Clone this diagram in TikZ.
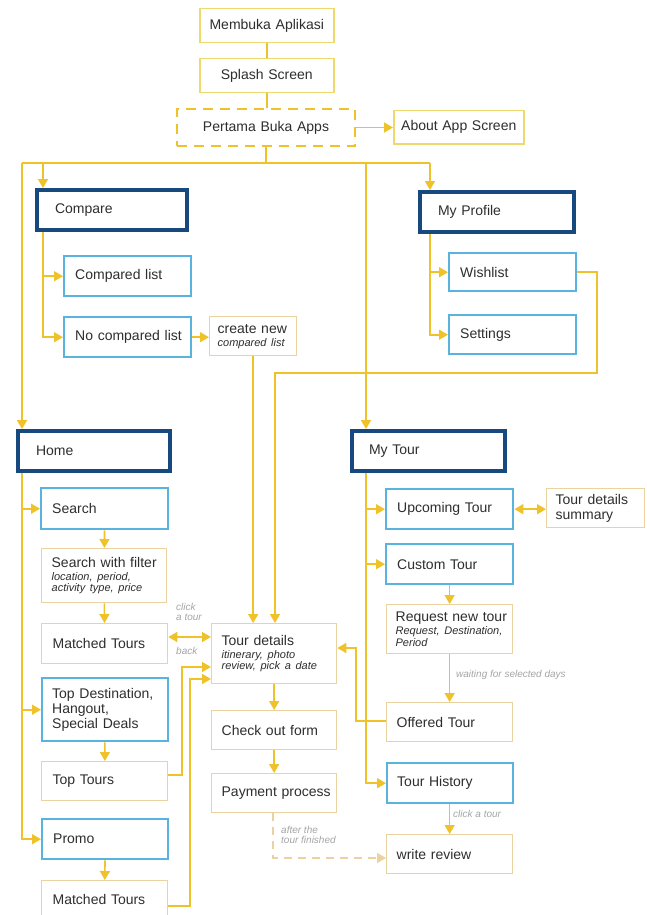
\documentclass[tikz,border=0pt]{standalone}
\usepackage{fontspec}
\setmainfont{Liberation Sans}
\usetikzlibrary{arrows.meta}
\definecolor{lnc}{HTML}{F0C22A}
\definecolor{tanc}{HTML}{EAD3A0}
\definecolor{yboxc}{HTML}{EED96E}
\definecolor{lbluec}{HTML}{5AB2DE}
\definecolor{dbluec}{HTML}{17497F}
\definecolor{labc}{HTML}{A5A5A8}
\definecolor{txtc}{HTML}{2E2E2E}
\hfuzz=60pt
\newcommand\subtxt[1]{{\fontsize{11}{11.5}\selectfont\itshape\vspace{1.5pt}#1\par}}
\newcommand\mkbox[8]{%
  \pgfmathsetmacro\bxw{#5-#3}\pgfmathsetmacro\bxh{#6-#4}\pgfmathsetmacro\bxt{#5-#3-2*#7}%
  \node[#1, minimum width=\bxw pt, minimum height=\bxh pt, text width=\bxt pt, inner xsep=#7pt, anchor=north west] (#2) at (#3,#4) {#8};}
\tikzset{
  basebox/.style={inner ysep=0pt, align=left, text=txtc, font=\fontsize{14}{15}\selectfont},
  plainbox/.style={basebox, draw=tanc, line width=1.3pt},
  topbox/.style={basebox, draw=yboxc, line width=1.5pt, align=center},
  dashbox/.style={basebox, draw=lnc, line width=2pt, dash pattern=on 10pt off 7pt, align=center},
  bluebox/.style={basebox, draw=lbluec, line width=2.4pt},
  darkbox/.style={basebox, draw=dbluec, line width=4pt},
  conn/.style={draw=lnc, line width=1.6pt},
  arr/.style={conn, -{Triangle[length=9pt,width=10pt]}},
  darr/.style={conn, {Triangle[length=9pt,width=10pt]}-{Triangle[length=9pt,width=10pt]}},
  dasharr/.style={draw=tanc, line width=1.5pt, dash pattern=on 8pt off 6pt, -{Triangle[length=9pt,width=10pt]}},
  lbl/.style={text=labc, font=\fontsize{10}{10.5}\selectfont\itshape, inner sep=0pt, align=left},
}
\begin{document}
\begin{tikzpicture}[x=1pt,y=-1pt]
\useasboundingbox (0,0) rectangle (647,915);
\fill[white] (0,0) rectangle (647,915);
\clip (0,0) rectangle (647,915);

% boxes
\mkbox{topbox}{memb}{199}{8}{333}{42}{6}{Membuka Aplikasi}
\mkbox{topbox}{splash}{199}{58}{333}{92}{6}{Splash Screen}
\mkbox{dashbox}{pertama}{176}{108}{354}{145}{10}{Pertama Buka Apps}
\mkbox{topbox}{about}{393}{110}{523}{143}{6}{About App Screen}
\mkbox{darkbox}{compare}{35}{188}{185}{228}{18}{Compare}
\mkbox{darkbox}{profile}{418}{190}{572}{230}{18}{My Profile}
\mkbox{bluebox}{cl}{63}{255}{190}{295}{11}{Compared list}
\mkbox{bluebox}{ncl}{63}{316}{190}{356}{11}{\mbox{No compared list}}
\mkbox{plainbox}{cnew}{209}{316}{296}{355}{8}{\mbox{create new}\par\subtxt{\mbox{compared list}}}
\mkbox{bluebox}{wish}{448}{252}{575}{290}{11}{Wishlist}
\mkbox{bluebox}{sett}{448}{314}{575}{353}{11}{Settings}
\mkbox{darkbox}{home}{16}{429}{168}{469}{18}{Home}
\mkbox{darkbox}{mytour}{350}{429}{503}{469}{17}{My Tour}
\mkbox{bluebox}{search}{40}{487}{167}{528}{11}{Search}
\mkbox{plainbox}{swf}{41}{548}{166}{602}{10}{\mbox{Search with filter}\par\subtxt{\mbox{location, period,}\\\mbox{activity type, price}}}
\mkbox{bluebox}{upc}{385}{488}{512}{528}{11}{\mbox{Upcoming Tour}}
\mkbox{plainbox}{tds}{546}{488}{644}{527}{9}{\mbox{Tour details}\\summary}
\mkbox{bluebox}{custom}{385}{543}{512}{583}{11}{Custom Tour}
\mkbox{plainbox}{mta}{41}{623}{167}{663}{11}{\mbox{Matched Tours}}
\mkbox{plainbox}{td}{211}{623}{336}{683}{10}{Tour details\par\subtxt{\mbox{itinerary, photo}\\\mbox{review, pick a date}}}
\mkbox{plainbox}{req}{386}{604}{512}{653}{9}{\mbox{Request new tour}\par\subtxt{\mbox{Request, Destination,}\\Period}}
\mkbox{bluebox}{topd}{41}{677}{167}{740}{10}{\mbox{Top Destination,}\\Hangout,\\\mbox{Special Deals}}
\mkbox{plainbox}{offered}{386}{702}{512}{741}{10}{Offered Tour}
\mkbox{plainbox}{toptours}{41}{761}{167}{800}{11}{Top Tours}
\mkbox{plainbox}{checkout}{211}{710}{336}{749}{10}{\mbox{Check out form}}
\mkbox{plainbox}{payment}{211}{773}{336}{812}{10}{\mbox{Payment process}}
\mkbox{bluebox}{history}{386}{762}{512}{802}{10}{Tour History}
\mkbox{bluebox}{promo}{41}{818}{167}{858}{11}{Promo}
\mkbox{plainbox}{review}{386}{834}{512}{873}{10}{write review}
\mkbox{plainbox}{mtb}{41}{880}{167}{918}{11}{\mbox{Matched Tours}}

% helper coordinates
\coordinate (busL) at (22,163);
\coordinate (busR) at (430,163);
\coordinate (bC) at (43,163);
\coordinate (bT) at (366,163);
\coordinate (wr) at (597,373);
\coordinate (wx) at (275,373);
\coordinate (dy) at (0,637);
\coordinate (ty) at (182,775);
\coordinate (t1) at (182,667);
\coordinate (m1) at (190,906);
\coordinate (m2) at (190,679);
\coordinate (pd) at (273,858);
\coordinate (o1) at (356,721);
\coordinate (o2) at (356,648);

% connectors top
\draw[conn] (memb.south) -- (memb.south |- splash.north);
\draw[conn] (splash.south) -- (splash.south |- pertama.north);
\draw[arr] (pertama.east) -- (pertama.east -| about.west);
\draw[conn] (pertama.south) -- (pertama.south |- busL);
\draw[conn] (busL) -- (busR);
\draw[arr] (bC) -- (bC |- compare.north);
\draw[arr] (busR) -- (busR |- profile.north);
\draw[arr] (busL) -- (busL |- home.north);
\draw[arr] (bT) -- (bT |- mytour.north);

% compare
\draw[arr] (compare.south -| bC) |- (ncl.west);
\draw[arr] (bC |- cl.west) -- (cl.west);
\draw[arr] (ncl.east) -- (ncl.east -| cnew.west);
\draw[arr] (cnew.south) -- (cnew.south |- td.north);

% profile
\draw[arr] (profile.south -| busR) |- (sett.west);
\draw[arr] (busR |- wish.west) -- (wish.west);
\draw[arr] (wish.east) -| (wr) -- (wx) -- (wx |- td.north);

% home
\draw[arr] (home.south -| busL) |- (promo.west);
\draw[arr] (busL |- search.west) -- (search.west);
\draw[arr] (busL |- topd.west) -- (topd.west);
\draw[arr] (search) -- (swf);
\draw[arr] (swf) -- (mta);
\draw[darr] (mta.east |- dy) -- (td.west |- dy);
\draw[arr] (topd) -- (toptours);
\draw[arr] (promo) -- (mtb);
\draw[arr] (toptours.east |- ty) -- (ty) -- (t1) -- (td.west |- t1);
\draw[arr] (mtb.east |- m1) -- (m1) -- (m2) -- (td.west |- m2);
\draw[arr] (td) -- (checkout);
\draw[arr] (checkout) -- (payment);
\draw[dasharr] (payment.south -| pd) -- (pd) -- (review.west |- pd);

% my tour
\draw[arr] (mytour.south -| bT) |- (history.west);
\draw[arr] (bT |- upc.west) -- (upc.west);
\draw[arr] (bT |- custom.west) -- (custom.west);
\draw[darr] (upc.east) -- (upc.east -| tds.west);
\draw[arr] (custom.south -| req.south) -- (req.north);
\draw[arr] (req) -- (offered);
\draw[arr] (offered.west |- o1) -- (o1) -- (o2) -- (td.east |- o2);
\draw[arr] (history.south -| review.north) -- (review.north);

% labels
\node[lbl, anchor=north west] (lclick) at (176,603) {click\\a tour};
\node[lbl, anchor=base west] (lback) at (176,654) {back};
\node[lbl, anchor=base west] (lwait) at (456,677) {waiting for selected days};
\node[lbl, anchor=base west] (lclk2) at (453,817) {click a tour};
\node[lbl, anchor=north west] (lafter) at (281,826) {after the\\tour finished};
\end{tikzpicture}
\end{document}
